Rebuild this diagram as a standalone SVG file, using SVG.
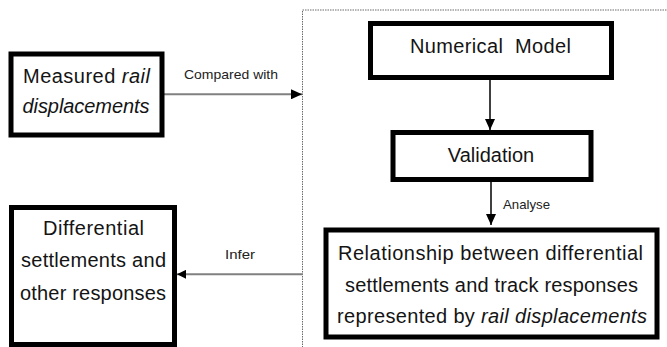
<svg xmlns="http://www.w3.org/2000/svg" width="667" height="347" viewBox="0 0 667 347">
<style>
  .box { fill: #fff; stroke: #000; stroke-width: 5; }
  .t { font-family: "Liberation Sans", Arial, sans-serif; font-size: 20px; fill: #141414; text-anchor: middle; }
  .lbl { font-family: "Liberation Sans", Arial, sans-serif; font-size: 13.5px; fill: #222; }
  .gray { stroke: #808080; stroke-width: 2; fill: none; }
  .blk { stroke: #000; stroke-width: 1.5; fill: none; }
  .it { font-style: italic; }
</style>
<defs>
  <marker id="ah" markerUnits="userSpaceOnUse" markerWidth="11" markerHeight="10" refX="11" refY="5" orient="auto">
    <path d="M0,0 L11,5 L0,10 z" fill="#000"/>
  </marker>
  <marker id="ahs" markerUnits="userSpaceOnUse" markerWidth="9" markerHeight="9" refX="9" refY="4.5" orient="auto">
    <path d="M0,0 L9,4.5 L0,9 z" fill="#000"/>
  </marker>
</defs>
<rect id="container" x="302.5" y="10" width="380" height="360" fill="none" stroke="#6a6a6a" stroke-width="1" stroke-dasharray="1.5 1"/>
<g id="connectors">
  <line class="gray" x1="164" y1="94.3" x2="302" y2="94.3" marker-end="url(#ah)"/>
  <text class="lbl" x="184" y="79" textLength="94" lengthAdjust="spacingAndGlyphs">Compared with</text>
  <line class="blk" x1="490" y1="80" x2="490" y2="130" marker-end="url(#ah)"/>
  <line class="blk" x1="491" y1="182" x2="491" y2="225" marker-end="url(#ah)"/>
  <text class="lbl" x="503" y="209" textLength="47" lengthAdjust="spacingAndGlyphs">Analyse</text>
  <line class="gray" x1="302.5" y1="274.3" x2="177" y2="274.3" marker-end="url(#ahs)"/>
  <text class="lbl" x="225" y="259" textLength="30" lengthAdjust="spacingAndGlyphs">Infer</text>
</g>
<g id="measured">
  <rect class="box" x="11" y="54" width="151" height="81" stroke-width="4.5"/>
  <text class="t" x="86.5" y="83" textLength="127" lengthAdjust="spacing">Measured <tspan class="it">rail</tspan></text>
  <text class="t it" x="86" y="113" textLength="127" lengthAdjust="spacing">displacements</text>
</g>
<g id="model">
  <rect class="box" x="370.5" y="23.5" width="241" height="54"/>
  <text class="t" x="490.5" y="53" textLength="161" lengthAdjust="spacing" xml:space="preserve">Numerical  Model</text>
</g>
<g id="validation">
  <rect class="box" x="393" y="132.5" width="198" height="47" stroke-width="4.5"/>
  <text class="t" x="491" y="162">Validation</text>
</g>
<g id="relationship">
  <rect class="box" x="326" y="230" width="331" height="107" stroke-width="5.5"/>
  <text class="t" x="490.5" y="260" textLength="305" lengthAdjust="spacing">Relationship between differential</text>
  <text class="t" x="491.5" y="292" textLength="293" lengthAdjust="spacing">settlements and track responses</text>
  <text class="t" x="492" y="323" textLength="310" lengthAdjust="spacing">represented by <tspan class="it">rail displacements</tspan></text>
</g>
<g id="differential">
  <rect class="box" x="11.5" y="207.5" width="163" height="137"/>
  <text class="t" x="93.5" y="235" textLength="101" lengthAdjust="spacing">Differential</text>
  <text class="t" x="93.5" y="267" textLength="145" lengthAdjust="spacing">settlements and</text>
  <text class="t" x="93" y="300" textLength="146" lengthAdjust="spacing">other responses</text>
</g>
</svg>
